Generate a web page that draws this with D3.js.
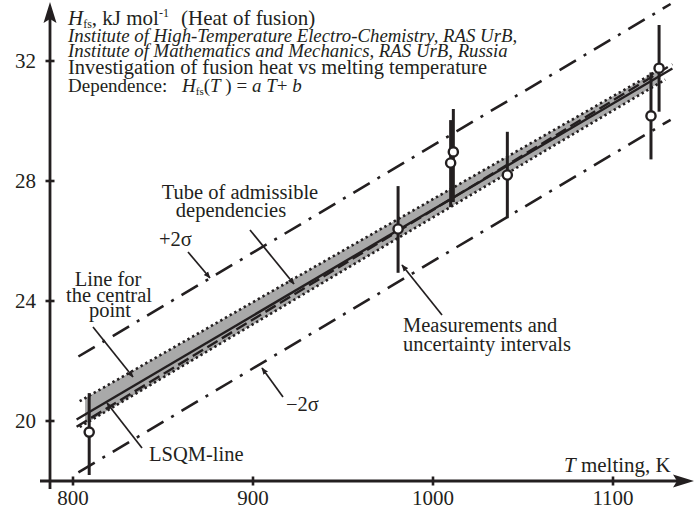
<!DOCTYPE html>
<html>
<head>
<meta charset="utf-8">
<script src="https://cdn.jsdelivr.net/npm/d3@7"></script>
<style>
    body { margin: 0; background: white; }
    text { font-family: "Liberation Serif", "Times New Roman", serif; fill: #231f20; }
</style>
</head>
<body>
<svg width="697" height="510"></svg>
<script>
var tTicks = [800, 900, 1000, 1100];
var hTicks = [20, 24, 28, 32];

// measurements (T, K ; H, kJ/mol) with uncertainty intervals
var measT = [809, 980.6, 1009.8, 1011.3, 1041.3, 1121.1, 1125.6];
var measH = [19.63, 26.4, 28.6, 28.97, 28.2, 30.17, 31.76];
var measLo = [18.2, 24.94, 27.13, 27.3, 26.76, 28.72, 30.31];
var measHi = [20.93, 27.83, 30.03, 30.4, 29.64, 31.62, 33.2];

// tube of admissible dependencies
var tubeT = [806.7, 1126];
var tubeUpper = [20.76, 31.72];
var tubeLower = [19.9, 31.28];

// central point line and LSQM line
var lineT = [802, 1133];
var centralH = [20.05, 31.75];
var lsqmH = [19.81, 31.89];

// +2 sigma / -2 sigma
var sigmaT = [803, 1132];
var plus2sH = [22.15, 33.9];
var minus2sH = [18.29, 30.04];

var xScale = d3.scaleLinear().domain([800, 1100]).range([73, 613]);
var yScale = d3.scaleLinear().domain([20, 32]).range([421, 61]);

var svg = d3.select("svg");
var ink = "#231f20";

var defs = svg.append("defs");
defs.append("marker")
    .attr("id", "head")
    .attr("viewBox", "0 0 10 10")
    .attr("refX", 9)
    .attr("refY", 5)
    .attr("markerWidth", 7)
    .attr("markerHeight", 7)
    .attr("markerUnits", "userSpaceOnUse")
    .attr("orient", "auto")
    .append("path")
    .attr("d", "M0,1 L10,5 L0,9 Z")
    .attr("fill", ink);

function pts(ts, hs) {
    return ts.map((t, i) => [xScale(t), yScale(hs[i])]);
}
var line = d3.line();

// Tube (gray band)
var tubeArea = d3.area()
    .x(d => xScale(d.t))
    .y0(d => yScale(d.lo))
    .y1(d => yScale(d.hi));
svg.append("path")
    .attr("d", tubeArea(tubeT.map((t, i) => ({ t: t, lo: tubeLower[i], hi: tubeUpper[i] }))))
    .attr("fill", "#a9a9a9");

// Tube borders (dotted)
[tubeUpper, tubeLower].forEach(function (hs) {
    svg.append("path")
        .attr("d", line(pts([tubeT[0] - 3, tubeT[1] + 3], [hs[0] - 0.1, hs[1] + 0.1])))
        .attr("fill", "none")
        .attr("stroke", ink)
        .attr("stroke-width", 2.6)
        .attr("stroke-dasharray", "2.4,3");
});

// +2s / -2s lines
[plus2sH, minus2sH].forEach(function (hs) {
    svg.append("path")
        .attr("d", line(pts(sigmaT, hs)))
        .attr("fill", "none")
        .attr("stroke", ink)
        .attr("stroke-width", 2.6)
        .attr("stroke-dasharray", "19,9,3,9");
});

// Central point line
svg.append("path")
    .attr("d", line(pts(lineT, centralH)))
    .attr("fill", "none")
    .attr("stroke", ink)
    .attr("stroke-width", 2.4);

// LSQM line
svg.append("path")
    .attr("d", line(pts(lineT, lsqmH)))
    .attr("fill", "none")
    .attr("stroke", ink)
    .attr("stroke-width", 2.4)
    .attr("stroke-dasharray", "12,5");

// Error bars
svg.selectAll("line.err")
    .data(measT)
    .enter()
    .append("line")
    .attr("class", "err")
    .attr("x1", d => xScale(d))
    .attr("x2", d => xScale(d))
    .attr("y1", (d, i) => yScale(measHi[i]))
    .attr("y2", (d, i) => yScale(measLo[i]))
    .attr("stroke", ink)
    .attr("stroke-width", 3);

// Measured points
svg.selectAll("circle.pt")
    .data(measT)
    .enter()
    .append("circle")
    .attr("class", "pt")
    .attr("cx", d => xScale(d))
    .attr("cy", (d, i) => yScale(measH[i]))
    .attr("r", 4.6)
    .attr("fill", "white")
    .attr("stroke", ink)
    .attr("stroke-width", 2.4);

// Axes
var axisY = yScale(18);
var axisX = 50;

svg.append("line")
    .attr("x1", 40).attr("x2", 680)
    .attr("y1", axisY).attr("y2", axisY)
    .attr("stroke", ink).attr("stroke-width", 2.8);
svg.append("path")
    .attr("d", "M694," + axisY + " L673," + (axisY - 6.5) + " L677," + axisY + " L673," + (axisY + 6.5) + " Z")
    .attr("fill", ink);

svg.append("line")
    .attr("x1", axisX).attr("x2", axisX)
    .attr("y1", axisY + 8).attr("y2", 18)
    .attr("stroke", ink).attr("stroke-width", 2.8);
svg.append("path")
    .attr("d", "M" + axisX + ",2 L" + (axisX - 6.5) + ",23 L" + axisX + ",19 L" + (axisX + 6.5) + ",23 Z")
    .attr("fill", ink);

svg.selectAll("line.xtick")
    .data(tTicks)
    .enter()
    .append("line")
    .attr("x1", d => xScale(d)).attr("x2", d => xScale(d))
    .attr("y1", axisY - 4.5).attr("y2", axisY + 4.5)
    .attr("stroke", ink).attr("stroke-width", 2.6);
svg.selectAll("text.xlab")
    .data(tTicks)
    .enter()
    .append("text")
    .attr("x", d => xScale(d))
    .attr("y", axisY + 24)
    .attr("text-anchor", "middle")
    .attr("font-size", 21)
    .text(d => d);

svg.selectAll("line.ytick")
    .data(hTicks)
    .enter()
    .append("line")
    .attr("x1", axisX - 4.5).attr("x2", axisX + 4.5)
    .attr("y1", d => yScale(d)).attr("y2", d => yScale(d))
    .attr("stroke", ink).attr("stroke-width", 2.6);
svg.selectAll("text.ylab")
    .data(hTicks)
    .enter()
    .append("text")
    .attr("x", axisX - 14)
    .attr("y", d => yScale(d) + 7)
    .attr("text-anchor", "end")
    .attr("font-size", 21)
    .text(d => d);

// X axis title
var xt = svg.append("text").attr("x", 564).attr("y", 472).attr("font-size", 21);
xt.append("tspan").attr("font-style", "italic").text("T");
xt.append("tspan").text(" melting, K");

// Header block
var h1 = svg.append("text").attr("x", 68).attr("y", 25).attr("font-size", 21);
h1.append("tspan").attr("font-style", "italic").text("H");
h1.append("tspan").attr("font-size", 12).attr("dy", 3).text("fs");
h1.append("tspan").attr("dy", -3).text(", kJ mol");
h1.append("tspan").attr("font-size", 12).attr("dy", -8).text("-1");
h1.append("tspan").attr("dy", 8).attr("x", 181).text("(Heat of fusion)");

svg.append("text").attr("x", 68).attr("y", 42).attr("font-size", 18.8)
    .attr("font-style", "italic")
    .text("Institute of High-Temperature Electro-Chemistry, RAS UrB,");
svg.append("text").attr("x", 68).attr("y", 57).attr("font-size", 18.8)
    .attr("font-style", "italic")
    .text("Institute of Mathematics and Mechanics, RAS UrB, Russia");
svg.append("text").attr("x", 68).attr("y", 74).attr("font-size", 20.5)
    .text("Investigation of fusion heat vs melting temperature");

var dep = svg.append("text").attr("x", 68).attr("y", 92).attr("font-size", 19);
dep.append("tspan").text("Dependence:");
dep.append("tspan").attr("x", 182).attr("font-style", "italic").text("H");
dep.append("tspan").attr("font-size", 11).attr("dy", 3).text("fs");
dep.append("tspan").attr("dy", -3).text("(");
dep.append("tspan").attr("font-style", "italic").text("T");
dep.append("tspan").text(" ) = ");
dep.append("tspan").attr("font-style", "italic").text("a T");
dep.append("tspan").text("+ ");
dep.append("tspan").attr("font-style", "italic").text("b");

// Annotations
function note(lines, xs, y, gap, anchor) {
    var t = svg.append("text")
        .attr("y", y)
        .attr("font-size", 20.5)
        .attr("text-anchor", anchor);
    lines.forEach(function (s, i) {
        t.append("tspan").attr("x", xs[i]).attr("dy", i === 0 ? 0 : gap).text(s);
    });
}
function pointer(x1, y1, x2, y2) {
    svg.append("line")
        .attr("x1", x1).attr("y1", y1)
        .attr("x2", x2).attr("y2", y2)
        .attr("stroke", ink)
        .attr("stroke-width", 1.7)
        .attr("marker-end", "url(#head)");
}

note(["Tube of admissible", "dependencies"], [240, 231], 199, 17.5, "middle");
pointer(250, 230, 294, 284);

note(["+2σ"], [159], 246, 0, "start");
pointer(188, 252, 210, 278);

note(["Line for", "the central", "point"], [108, 109, 110], 286, 15.5, "middle");
pointer(93, 327, 133, 377);

note(["LSQM-line"], [149], 461, 0, "start");
pointer(142, 448, 107, 403);

note(["−2σ"], [286], 411, 0, "start");
pointer(283, 397, 262, 368);

note(["Measurements and", "uncertainty intervals"], [403, 403], 332, 19, "start");
pointer(442, 315, 402, 265);
</script>
</body>
</html>
